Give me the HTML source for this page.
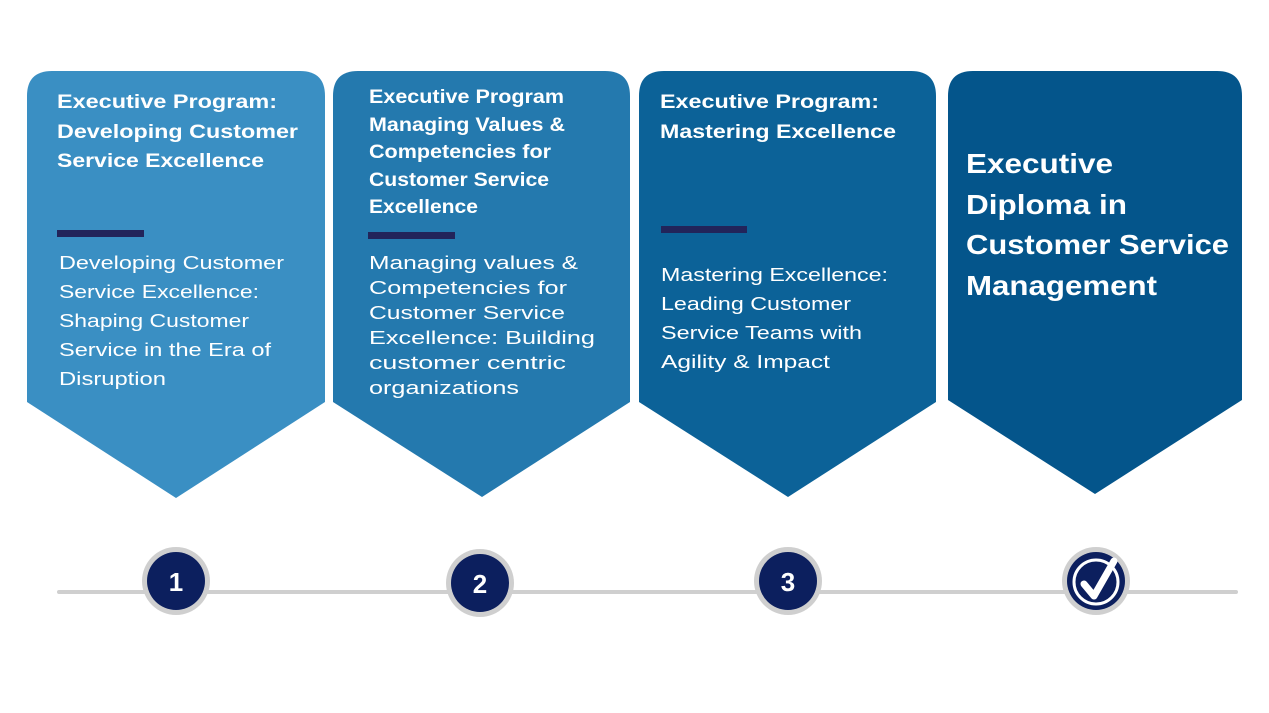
<!DOCTYPE html>
<html><head><meta charset="utf-8"><style>html,body{margin:0;padding:0;background:#fff}svg{display:block}</style></head>
<body>
<svg width="1269" height="713" viewBox="0 0 1269 713" xmlns="http://www.w3.org/2000/svg" font-family="Liberation Sans, sans-serif">
<rect width="1269" height="713" fill="#fff"/>
<path d="M27,96 Q27,71 52,71 L300,71 Q325,71 325,96 L325,402 L176,498 L27,402 Z" fill="#3a8fc3"/>
<path d="M333,96 Q333,71 358,71 L605,71 Q630,71 630,96 L630,402 L482,497 L333,402 Z" fill="#2479ae"/>
<path d="M639,96 Q639,71 664,71 L911,71 Q936,71 936,96 L936,402 L788,497 L639,402 Z" fill="#0c6298"/>
<path d="M948,96 Q948,71 973,71 L1217,71 Q1242,71 1242,96 L1242,400 L1095,494 L948,400 Z" fill="#04558b"/>
<g fill="#fff" font-weight="bold" font-size="19">
<text x="57" y="108" textLength="220" lengthAdjust="spacingAndGlyphs">Executive Program:</text>
<text x="57" y="138" textLength="241" lengthAdjust="spacingAndGlyphs">Developing Customer</text>
<text x="57" y="167" textLength="207" lengthAdjust="spacingAndGlyphs">Service Excellence</text>
<text x="369" y="103" textLength="195" lengthAdjust="spacingAndGlyphs">Executive Program</text>
<text x="369" y="131" textLength="196" lengthAdjust="spacingAndGlyphs">Managing Values &amp;</text>
<text x="369" y="158" textLength="182" lengthAdjust="spacingAndGlyphs">Competencies for</text>
<text x="369" y="186" textLength="180" lengthAdjust="spacingAndGlyphs">Customer Service</text>
<text x="369" y="213" textLength="109" lengthAdjust="spacingAndGlyphs">Excellence</text>
<text x="660" y="108" textLength="219" lengthAdjust="spacingAndGlyphs">Executive Program:</text>
<text x="660" y="138" textLength="236" lengthAdjust="spacingAndGlyphs">Mastering Excellence</text>
</g>
<g fill="#fff" font-weight="bold" font-size="28">
<text x="966" y="173" textLength="147" lengthAdjust="spacingAndGlyphs">Executive</text>
<text x="966" y="214" textLength="161" lengthAdjust="spacingAndGlyphs">Diploma in</text>
<text x="966" y="254" textLength="263" lengthAdjust="spacingAndGlyphs">Customer Service</text>
<text x="966" y="295" textLength="191" lengthAdjust="spacingAndGlyphs">Management</text>
</g>
<rect x="57" y="230" width="87" height="7" fill="#22245a"/>
<rect x="368" y="232" width="87" height="7" fill="#22245a"/>
<rect x="661" y="226" width="86" height="7" fill="#22245a"/>
<g fill="#fff" font-size="18">
<text x="59" y="269" textLength="225" lengthAdjust="spacingAndGlyphs">Developing Customer</text>
<text x="59" y="298" textLength="200" lengthAdjust="spacingAndGlyphs">Service Excellence:</text>
<text x="59" y="327" textLength="190" lengthAdjust="spacingAndGlyphs">Shaping Customer</text>
<text x="59" y="356" textLength="212" lengthAdjust="spacingAndGlyphs">Service in the Era of</text>
<text x="59" y="385" textLength="107" lengthAdjust="spacingAndGlyphs">Disruption</text>
<text x="369" y="269" textLength="209" lengthAdjust="spacingAndGlyphs">Managing values &amp;</text>
<text x="369" y="294" textLength="198" lengthAdjust="spacingAndGlyphs">Competencies for</text>
<text x="369" y="319" textLength="196" lengthAdjust="spacingAndGlyphs">Customer Service</text>
<text x="369" y="344" textLength="226" lengthAdjust="spacingAndGlyphs">Excellence: Building</text>
<text x="369" y="369" textLength="197" lengthAdjust="spacingAndGlyphs">customer  centric</text>
<text x="369" y="394" textLength="150" lengthAdjust="spacingAndGlyphs">organizations</text>
<text x="661" y="281" textLength="227" lengthAdjust="spacingAndGlyphs">Mastering Excellence:</text>
<text x="661" y="310" textLength="190" lengthAdjust="spacingAndGlyphs">Leading Customer</text>
<text x="661" y="339" textLength="201" lengthAdjust="spacingAndGlyphs">Service Teams with</text>
<text x="661" y="368" textLength="169" lengthAdjust="spacingAndGlyphs">Agility &amp; Impact</text>
</g>
<line x1="59" y1="592" x2="1236" y2="592" stroke="#cfcfcf" stroke-width="4" stroke-linecap="round"/>
<g>
<circle cx="176" cy="581" r="34" fill="#cfcfcf"/><circle cx="176" cy="581" r="29" fill="#0c1f5e"/>
<circle cx="480" cy="583" r="34" fill="#cfcfcf"/><circle cx="480" cy="583" r="29" fill="#0c1f5e"/>
<circle cx="788" cy="581" r="34" fill="#cfcfcf"/><circle cx="788" cy="581" r="29" fill="#0c1f5e"/>
<circle cx="1096" cy="581" r="34" fill="#cfcfcf"/><circle cx="1096" cy="581" r="29" fill="#0c1f5e"/>
<circle cx="1096" cy="582" r="22" fill="none" stroke="#fff" stroke-width="3"/>
<path d="M1084,584 L1094,596 L1114,561" fill="none" stroke="#fff" stroke-width="7" stroke-linecap="round" stroke-linejoin="round"/>
</g>
<g fill="#fff" font-weight="bold" font-size="26" text-anchor="middle">
<text x="176" y="591">1</text>
<text x="480" y="593">2</text>
<text x="788" y="591">3</text>
</g>
</svg>
</body></html>
